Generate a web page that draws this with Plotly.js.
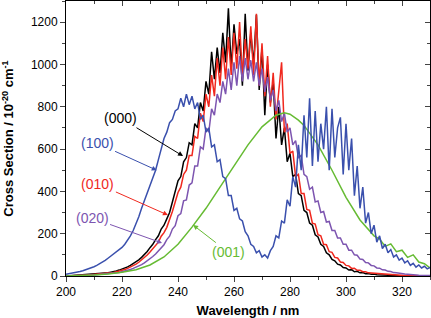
<!DOCTYPE html>
<html>
<head>
<meta charset="utf-8">
<script src="https://cdn.plot.ly/plotly-3.0.1.min.js"></script>
<style>html,body{margin:0;padding:0;background:#fff;}#chart{width:431px;height:318px;}</style>
</head>
<body>
<div id="chart"></div>
<script>
// Wavelength grid (nm), 1 nm steps
const wavelength = [200,201,202,203,204,205,206,207,208,209,210,211,212,213,214,215,216,217,218,219,
220,221,222,223,224,225,226,227,228,229,230,231,232,233,234,235,236,237,238,239,
240,241,242,243,244,245,246,247,248,249,250,251,252,253,254,255,256,257,258,259,
260,261,262,263,264,265,266,267,268,269,270,271,272,273,274,275,276,277,278,279,
280,281,282,283,284,285,286,287,288,289,290,291,292,293,294,295,296,297,298,299,
300,301,302,303,304,305,306,307,308,309,310,311,312,313,314,315,316,317,318,319,
320,321,322,323,324,325,326,327,328,329,330];

// (000) black
const cs000 = [0,1,1,2,2,3,3,4,5,6,7,8,10,11,13,15,18,20,24,28,
32,37,43,50,58,66,76,88,101,116,134,150,172,190,222,240,270,300,350,400,
450,470,540,560,630,620,720,700,820,780,920,860,1060,930,1080,960,1150,1010,1265,980,
1190,1050,1120,900,1240,970,1150,1000,1235,880,1080,760,1000,820,920,650,800,620,700,540,
580,470,480,390,380,310,300,250,240,195,185,150,140,110,100,78,72,56,52,40,
38,28,30,20,22,15,16,11,12,8,9,6,6,4,4,3,3,2,2,2,
2,1,1,1,1,1,0,1,0,0,0];

// (010) red
const cs010 = [0,1,1,1,2,2,3,3,4,5,6,7,8,9,11,13,15,17,20,23,
27,31,36,42,49,56,65,75,86,99,113,128,146,160,188,205,230,265,305,350,
395,420,480,500,570,570,660,650,770,730,860,800,950,850,1030,900,1080,930,1130,950,
1150,980,1200,940,1120,980,1180,950,1240,900,1100,850,1040,800,960,740,880,1010,680,720,
580,590,470,480,390,390,315,310,250,245,195,190,150,148,115,112,88,85,66,64,
50,48,36,37,27,27,20,20,15,14,11,10,8,8,6,6,4,4,3,3,
2,2,2,1,1,1,1,1,1,0,0];

// (020) purple
const cs020 = [0,0,1,1,1,2,2,3,3,4,5,5,6,7,8,10,11,13,15,17,
20,23,27,31,36,41,47,54,62,71,81,92,104,118,132,148,172,188,222,238,
285,295,355,360,430,440,520,520,610,600,700,680,790,760,860,820,920,860,980,880,
1010,900,1040,920,1030,930,1020,920,1010,900,980,870,940,830,880,780,830,730,770,680,
700,620,640,560,570,480,470,410,420,350,355,300,305,255,258,215,215,180,180,150,
150,122,122,100,98,80,78,64,62,50,48,38,37,29,28,22,21,16,15,12,
11,9,8,6,6,5,4,3,3,2,2];

// (100) blue
const cs100 = [8,10,12,15,18,21,25,29,34,39,44,50,57,65,74,84,94,105,116,125,
135,150,168,190,215,245,280,320,355,392,430,465,500,550,600,650,680,725,740,780,
790,840,800,860,810,850,790,820,740,760,680,700,610,620,540,550,470,460,380,380,
310,320,270,260,210,190,150,140,110,120,90,100,85,120,140,190,180,260,250,360,
330,470,420,620,500,760,560,840,520,780,540,720,600,800,500,790,560,700,750,480,
720,500,650,380,520,320,420,250,300,200,240,160,190,130,150,110,125,90,100,75,
85,62,72,50,60,42,52,38,46,34,40];

// (001) green, smooth
const wavelength001 = [200,205,210,215,220,225,230,235,240,245,250,255,260,265,270,275,278,280,283,285,290,295,300,305,310,312,314,316,318,320,322,324,326,328,330];
const cs001 = [0,2,5,10,18,30,52,90,150,231,320,420,520,620,705,760,772,765,737,712,620,500,372,265,190,175,140,152,115,122,88,100,66,58,38];

const labels = ['(000)','(010)','(020)','(001)','(100)'];
const colors = ['#000000','#f0281e','#7d55b0','#66bb33','#3a50ad'];

const traces = [
  {x: wavelength, y: cs000, name: labels[0], line:{color:colors[0], width:1.5}},
  {x: wavelength, y: cs010, name: labels[1], line:{color:colors[1], width:1.5}},
  {x: wavelength, y: cs020, name: labels[2], line:{color:colors[2], width:1.5}},
  {x: wavelength001, y: cs001, name: labels[3], line:{color:colors[3], width:1.5}},
  {x: wavelength, y: cs100, name: labels[4], line:{color:colors[4], width:1.5}},
  {x: [], y: [], xaxis:'x2', yaxis:'y2', showlegend:false, hoverinfo:'skip'}
].map(t => Object.assign({type:'scatter', mode:'lines'}, t));

const font = {family:'Liberation Sans, Arial, sans-serif', size:12, color:'#000'};

function ann(text, color, tipX, tipY, textX, textY) {
  return {x: tipX, y: tipY, ax: textX, ay: textY, xref:'x', yref:'y', axref:'x', ayref:'y',
    text: text, showarrow:true, arrowhead:2, arrowsize:1, arrowwidth:1, arrowcolor:color,
    font:{family:font.family, size:14, color:color}};
}

const layout = {
  width: 431, height: 318,
  margin: {l:66, r:1, t:1, b:42},
  paper_bgcolor:'#fff', plot_bgcolor:'#fff',
  showlegend:false,
  font: font,
  xaxis: {range:[200,330], tickvals:[200,220,240,260,280,300,320], ticks:'outside', ticklen:5, tickwidth:1,
    minor:{dtick:10, tick0:200, ticks:'outside', ticklen:3, tickwidth:1}, showgrid:false, zeroline:false,
    showline:true, linecolor:'#000', linewidth:1, mirror:true,
    title:{text:'<b>Wavelength / nm</b>', font:{family:font.family, size:13}, standoff:8}},
  yaxis: {range:[0,1300], tickvals:[0,200,400,600,800,1000,1200], ticks:'outside', ticklen:5, tickwidth:1,
    minor:{dtick:100, tick0:0, ticks:'outside', ticklen:3, tickwidth:1}, showgrid:false, zeroline:false,
    showline:true, linecolor:'#000', linewidth:1, mirror:true,
    title:{text:'<b>Cross Section / 10<sup>-20</sup> cm<sup>-1</sup></b>', font:{family:font.family, size:13}, standoff:14}},
  xaxis2: {overlaying:'x', side:'top', range:[200,330], tickvals:[200,220,240,260,280,300,320], ticks:'inside', ticklen:5,
    minor:{dtick:10, tick0:200, ticks:'inside', ticklen:3}, showticklabels:false, showgrid:false, zeroline:false},
  yaxis2: {overlaying:'y', side:'right', range:[0,1300], tickvals:[0,200,400,600,800,1000,1200], ticks:'inside', ticklen:5,
    minor:{dtick:100, tick0:0, ticks:'inside', ticklen:3}, showticklabels:false, showgrid:false, zeroline:false},
  annotations: [
    ann(labels[0], colors[0], 241.8, 567, 219.6, 746),
    ann(labels[4], colors[4], 232.4, 500, 211.1, 628),
    ann(labels[1], colors[1], 236.4, 288, 211.4, 435),
    ann(labels[2], colors[2], 234.3, 156, 209.3, 274),
    ann(labels[3], colors[3], 245.4, 241, 257.9, 113)
  ]
};

Plotly.newPlot('chart', traces, layout, {displayModeBar:false, staticPlot:true});
</script>
</body>
</html>
